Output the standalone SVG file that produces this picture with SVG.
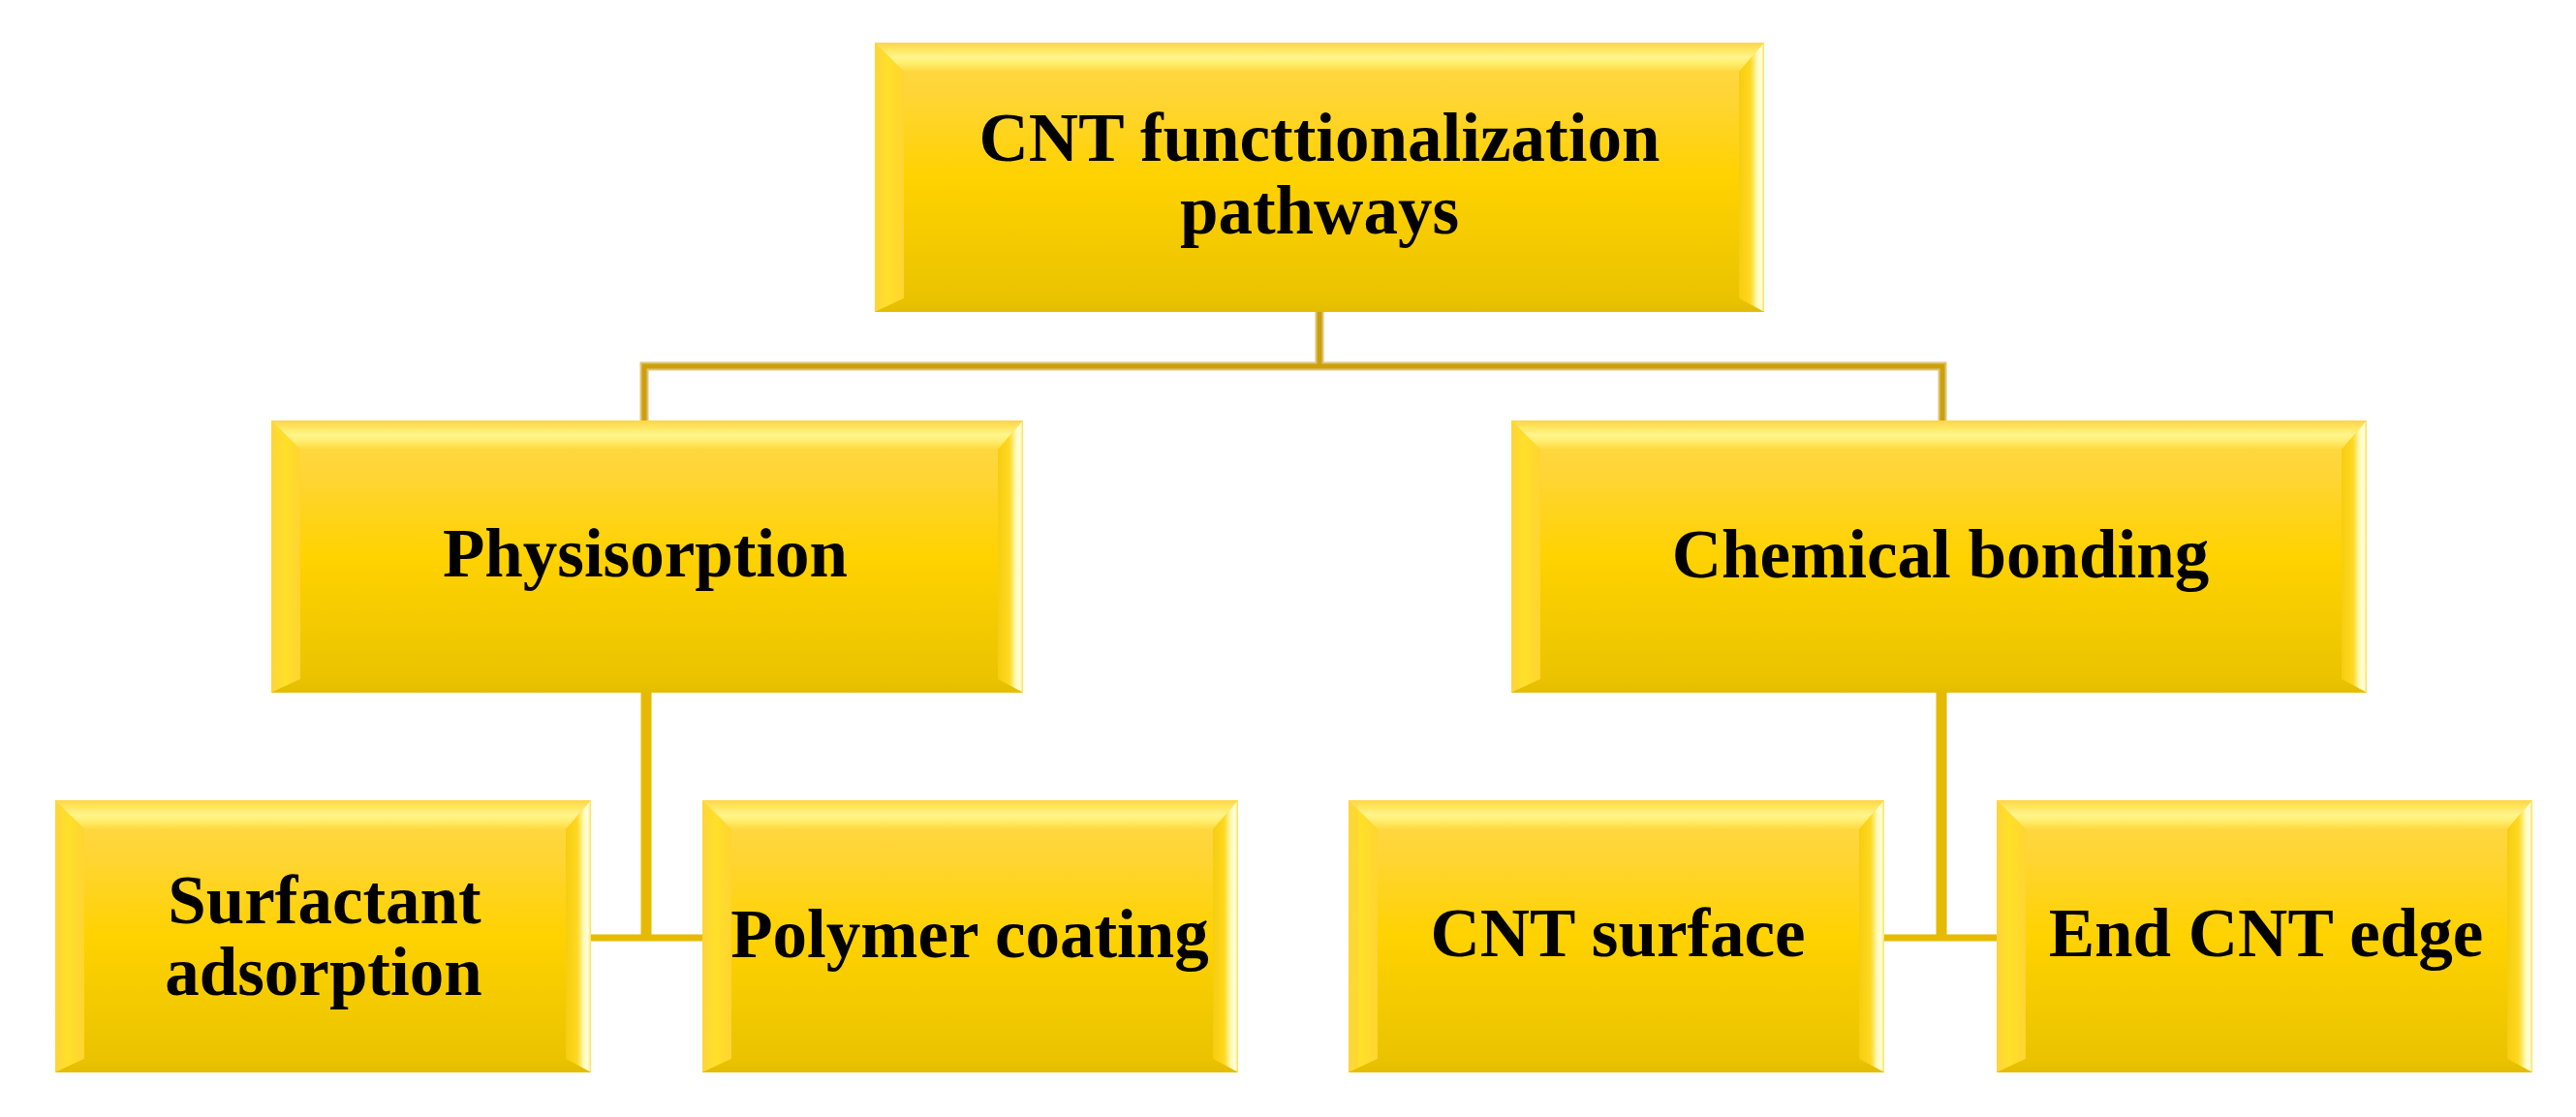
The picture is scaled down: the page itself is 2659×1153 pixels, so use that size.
<svg xmlns="http://www.w3.org/2000/svg" width="2659" height="1153" viewBox="0 0 2659 1153">
<style>
.lbl{font-family:"Liberation Serif","Times New Roman",serif;font-weight:bold;font-size:71px;text-anchor:middle;fill:#000}
.body{fill:url(#gBody)}
.bt{fill:url(#gTop)}
.bl{fill:url(#gLeft)}
.br{fill:url(#gRight)}
.bb{fill:url(#gBot)}
.cTopO{fill:none;stroke:#DEC478;stroke-width:9}
.cTopI{fill:none;stroke:#CCA00A;stroke-width:5}
.cBot{fill:none;stroke:#E6BA00}
</style>
<defs>
<linearGradient id="gBody" x1="0" y1="0" x2="0" y2="1">
<stop offset="0" stop-color="#FFD84A"/>
<stop offset="0.2" stop-color="#FFD535"/>
<stop offset="0.5" stop-color="#FFD200"/>
<stop offset="0.85" stop-color="#EFC700"/>
<stop offset="1" stop-color="#E8C000"/>
</linearGradient>
<linearGradient id="gTop" x1="0" y1="0" x2="0" y2="1">
<stop offset="0" stop-color="#FFD44A"/>
<stop offset="0.2" stop-color="#FFE45A"/>
<stop offset="0.5" stop-color="#FFF58C"/>
<stop offset="0.7" stop-color="#FFEE70"/>
<stop offset="1" stop-color="#FFD83E"/>
</linearGradient>
<linearGradient id="gLeft" x1="0" y1="0" x2="1" y2="0">
<stop offset="0" stop-color="#FFD43A"/>
<stop offset="0.45" stop-color="#FFE028"/>
<stop offset="1" stop-color="#FFD430"/>
</linearGradient>
<linearGradient id="gRight" x1="0" y1="0" x2="1" y2="0">
<stop offset="0" stop-color="#F6CD10"/>
<stop offset="0.45" stop-color="#FFD820"/>
<stop offset="0.7" stop-color="#FFF8B0"/>
<stop offset="0.88" stop-color="#FFFFE6"/>
<stop offset="1" stop-color="#FFE24A"/>
</linearGradient>
<linearGradient id="gBot" x1="0" y1="0" x2="0" y2="1">
<stop offset="0" stop-color="#EAC400"/>
<stop offset="1" stop-color="#E4BC00"/>
</linearGradient>
</defs>

<g id="connectors">
<path class="cTopO" d="M1362,322 V378 M665,434 V378 H2005 V434"/>
<path class="cTopI" d="M1362,322 V378 M665,434 V378 H2005 V434"/>
<path class="cBot" stroke-width="11" d="M667,715 V968 M2004,715 V968"/>
<path class="cBot" stroke-width="7" d="M610,968 H725 M1945,968 H2061"/>
</g>

<g id="node-root">
<rect class="body" x="903" y="44" width="918" height="278"/>
<polygon class="bt" points="903,44 1821,44 1795,74 933,74"/>
<polygon class="bl" points="903,44 933,74 933,308 903,322"/>
<polygon class="br" points="1821,44 1821,322 1795,308 1795,74"/>
<polygon class="bb" points="903,322 933,308 1795,308 1821,322"/>
<text class="lbl" x="1362" y="166">CNT functtionalization</text>
<text class="lbl" x="1362" y="241">pathways</text>
</g>

<g id="node-physisorption">
<rect class="body" x="280" y="434" width="776" height="281"/>
<polygon class="bt" points="280,434 1056,434 1030,464 310,464"/>
<polygon class="bl" points="280,434 310,464 310,701 280,715"/>
<polygon class="br" points="1056,434 1056,715 1030,701 1030,464"/>
<polygon class="bb" points="280,715 310,701 1030,701 1056,715"/>
<text class="lbl" x="666" y="595">Physisorption</text>
</g>

<g id="node-chemical">
<rect class="body" x="1560" y="434" width="883" height="281"/>
<polygon class="bt" points="1560,434 2443,434 2417,464 1590,464"/>
<polygon class="bl" points="1560,434 1590,464 1590,701 1560,715"/>
<polygon class="br" points="2443,434 2443,715 2417,701 2417,464"/>
<polygon class="bb" points="1560,715 1590,701 2417,701 2443,715"/>
<text class="lbl" x="2003" y="596">Chemical bonding</text>
</g>

<g id="node-surfactant">
<rect class="body" x="57" y="826" width="553" height="281"/>
<polygon class="bt" points="57,826 610,826 584,856 87,856"/>
<polygon class="bl" points="57,826 87,856 87,1093 57,1107"/>
<polygon class="br" points="610,826 610,1107 584,1093 584,856"/>
<polygon class="bb" points="57,1107 87,1093 584,1093 610,1107"/>
<text class="lbl" x="335" y="953">Surfactant</text>
<text class="lbl" x="334" y="1027">adsorption</text>
</g>

<g id="node-polymer">
<rect class="body" x="725" y="826" width="553" height="281"/>
<polygon class="bt" points="725,826 1278,826 1252,856 755,856"/>
<polygon class="bl" points="725,826 755,856 755,1093 725,1107"/>
<polygon class="br" points="1278,826 1278,1107 1252,1093 1252,856"/>
<polygon class="bb" points="725,1107 755,1093 1252,1093 1278,1107"/>
<text class="lbl" x="1001" y="988">Polymer coating</text>
</g>

<g id="node-cnt-surface">
<rect class="body" x="1392" y="826" width="553" height="281"/>
<polygon class="bt" points="1392,826 1945,826 1919,856 1422,856"/>
<polygon class="bl" points="1392,826 1422,856 1422,1093 1392,1107"/>
<polygon class="br" points="1945,826 1945,1107 1919,1093 1919,856"/>
<polygon class="bb" points="1392,1107 1422,1093 1919,1093 1945,1107"/>
<text class="lbl" x="1670" y="987">CNT surface</text>
</g>

<g id="node-end-edge">
<rect class="body" x="2061" y="826" width="553" height="281"/>
<polygon class="bt" points="2061,826 2614,826 2588,856 2091,856"/>
<polygon class="bl" points="2061,826 2091,856 2091,1093 2061,1107"/>
<polygon class="br" points="2614,826 2614,1107 2588,1093 2588,856"/>
<polygon class="bb" points="2061,1107 2091,1093 2588,1093 2614,1107"/>
<text class="lbl" x="2339" y="987">End CNT edge</text>
</g>
</svg>
